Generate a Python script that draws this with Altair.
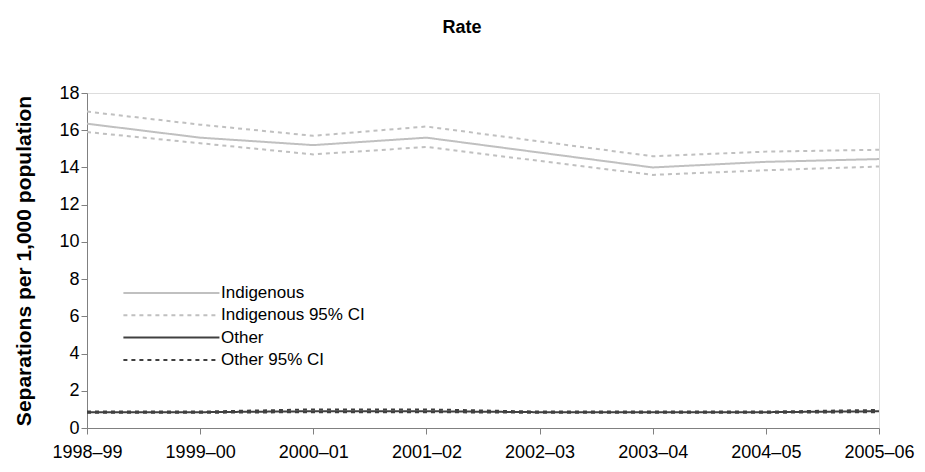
import altair as alt
import pandas as pd

years = ["1998–99", "1999–00", "2000–01", "2001–02", "2002–03", "2003–04", "2004–05", "2005–06"]
indigenous = [16.35, 15.6, 15.2, 15.6, 14.8, 14.0, 14.3, 14.45]
indigenous_hi = [17.0, 16.3, 15.7, 16.2, 15.4, 14.6, 14.85, 14.95]
indigenous_lo = [15.9, 15.3, 14.7, 15.1, 14.35, 13.6, 13.85, 14.05]
other = [0.85, 0.85, 0.9, 0.9, 0.85, 0.85, 0.85, 0.9]
other_hi = [0.88, 0.88, 1.0, 1.0, 0.88, 0.88, 0.88, 0.97]
other_lo = [0.82, 0.82, 0.85, 0.85, 0.82, 0.82, 0.82, 0.85]

series_names = ["Indigenous", "Indigenous 95% CI", "Other", "Other 95% CI"]

rows = []
for name, key, vals in [
    ("Indigenous", "Indigenous", indigenous),
    ("Indigenous 95% CI", "Indigenous 95% CI hi", indigenous_hi),
    ("Indigenous 95% CI", "Indigenous 95% CI lo", indigenous_lo),
    ("Other", "Other", other),
    ("Other 95% CI", "Other 95% CI hi", other_hi),
    ("Other 95% CI", "Other 95% CI lo", other_lo),
]:
    for y, v in zip(years, vals):
        rows.append({"year": y, "value": v, "series": name, "line": key})
df = pd.DataFrame(rows)

FONT = "Liberation Sans"

leg = dict(title=None, orient="none", legendX=35, legendY=189,
           symbolType="M-1,0H9", symbolSize=369, symbolStrokeWidth=2,
           labelFontSize=17, labelFont=FONT, labelColor="black",
           rowPadding=3.3, labelOffset=77)

chart = alt.Chart(df).mark_line(strokeWidth=2).encode(
    x=alt.X("year:N", sort=years, scale=alt.Scale(type="point", padding=0),
            axis=alt.Axis(title=None, labelAngle=0, labelFontSize=18, labelFont=FONT,
                          labelColor="black", tickSize=6, domainColor="#808080",
                          tickColor="#808080", labelPadding=9, grid=False)),
    y=alt.Y("value:Q", scale=alt.Scale(domain=[0, 18]),
            axis=alt.Axis(title="Separations per 1,000 population", values=list(range(0, 19, 2)),
                          titleFontSize=21, titleFont=FONT, titleFontWeight="bold",
                          titleColor="black", labelFontSize=18, labelFont=FONT,
                          labelColor="black", tickSize=6, domainColor="#808080",
                          tickColor="#808080", grid=False, titlePadding=24)),
    color=alt.Color("series:N", scale=alt.Scale(domain=series_names,
                    range=["#c0c0c0", "#c0c0c0", "#404040", "#404040"]),
                    legend=alt.Legend(**leg)),
    strokeDash=alt.StrokeDash("series:N", scale=alt.Scale(domain=series_names,
                              range=[[1, 0], [4, 4], [1, 0], [4, 4]]),
                              legend=alt.Legend(**leg)),
    detail="line:N",
).properties(
    width=792, height=335,
    title=alt.TitleParams("Rate", fontSize=18, font=FONT, fontWeight="bold", color="black",
                          anchor="middle", offset=47, dx=-21),
    autosize=alt.AutoSizeParams(type="none"),
    padding={"left": 87, "top": 93, "right": 46, "bottom": 44},
).configure_view(stroke=None).configure(background="white")

chart.save("out.html", embed_options={"renderer": "svg", "actions": False})
